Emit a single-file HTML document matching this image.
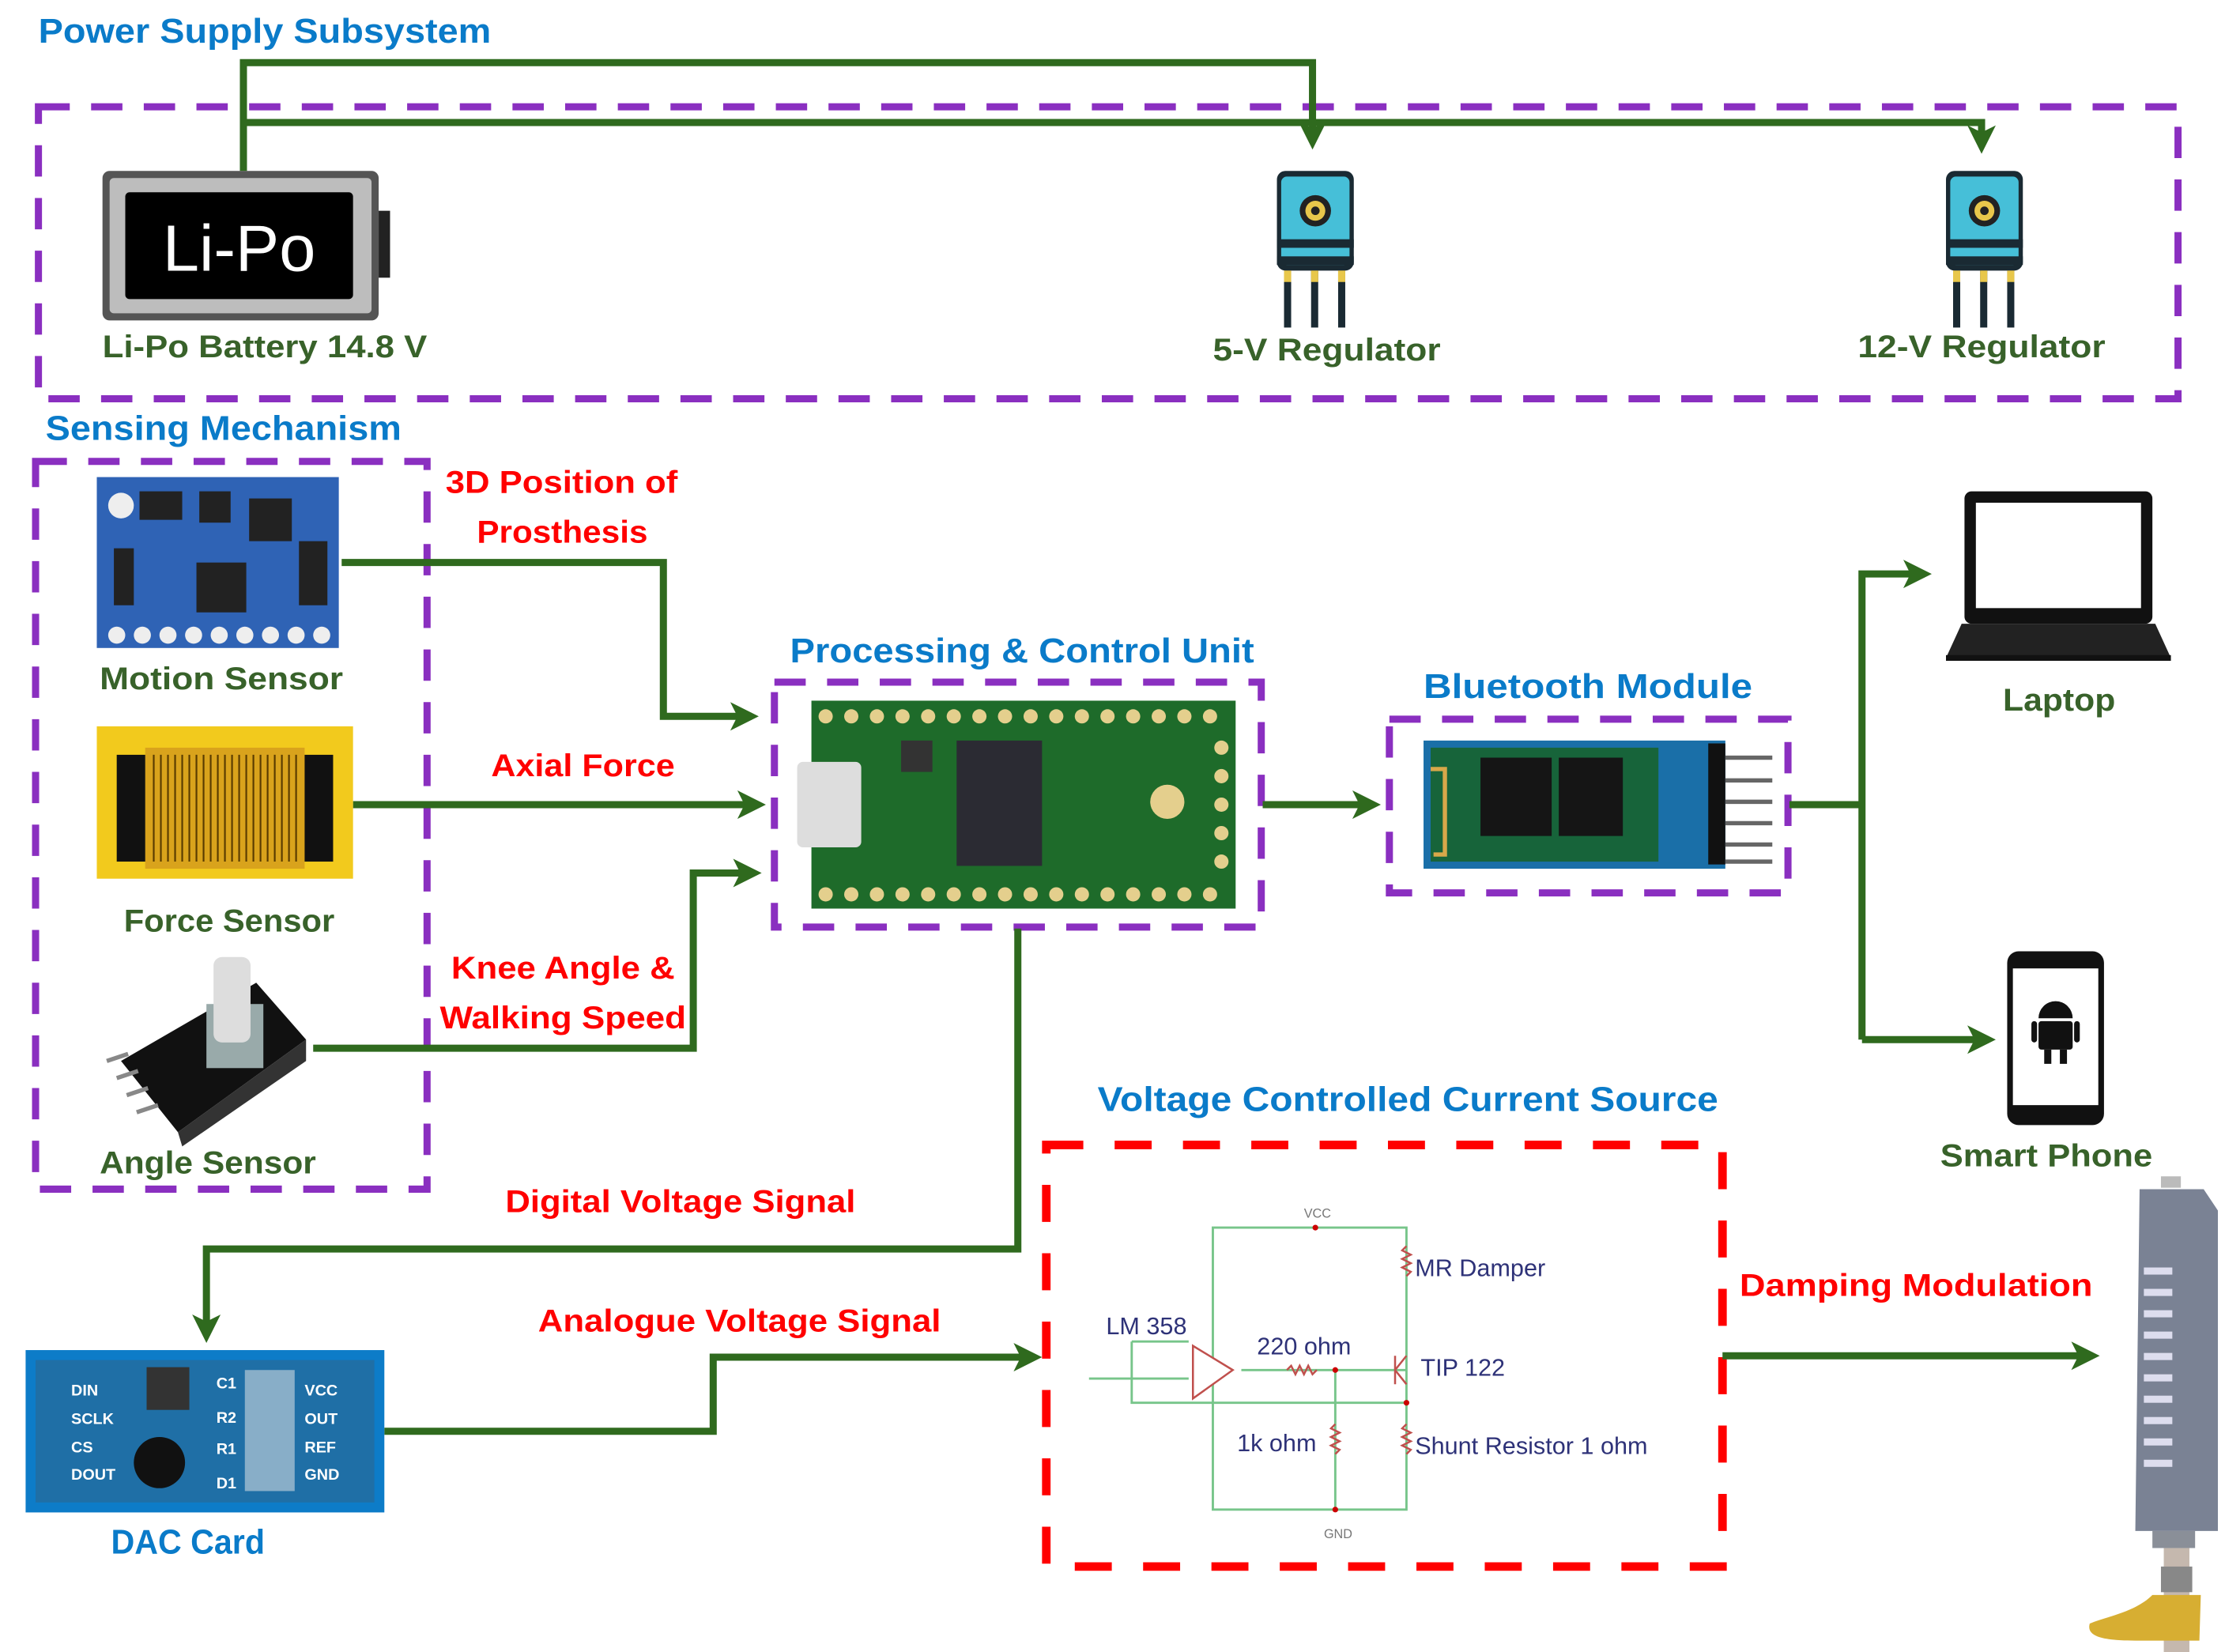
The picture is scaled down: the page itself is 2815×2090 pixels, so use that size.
<!DOCTYPE html>
<html><head><meta charset="utf-8"><style>
html,body{margin:0;padding:0;background:#fff;}
svg{display:block;}
text{font-family:"Liberation Sans",sans-serif;font-weight:bold;}
</style></head><body>
<svg width="2815" height="2090" viewBox="0 0 1563 1160" preserveAspectRatio="none" xmlns="http://www.w3.org/2000/svg">
<defs>
<marker id="ah" markerWidth="4" markerHeight="4" refX="3" refY="2" orient="auto" markerUnits="strokeWidth">
<path d="M0,0 L4,2 L0,4 L1,2 Z" fill="#2F6A1E"/></marker>
</defs>
<rect width="1563" height="1160" fill="#fff"/>

<!-- dashed boxes -->
<g fill="none" stroke="#8A2FC0" stroke-width="5" stroke-dasharray="22,15">
<rect x="27" y="75" width="1503" height="205"/>
<rect x="25" y="324" width="275" height="511"/>
<rect x="544" y="479" width="342" height="172"/>
<rect x="976" y="505" width="280" height="122"/>
</g>
<rect x="735" y="804" width="475" height="296" fill="none" stroke="#FF0000" stroke-width="6" stroke-dasharray="26,22"/>

<!-- titles -->
<g fill="#0A7BC9" font-size="24">
<text x="27" y="30" textLength="318" lengthAdjust="spacingAndGlyphs">Power Supply Subsystem</text>
<text x="32" y="309" textLength="250" lengthAdjust="spacingAndGlyphs">Sensing Mechanism</text>
<text x="555" y="465" textLength="326" lengthAdjust="spacingAndGlyphs">Processing &amp; Control Unit</text>
<text x="1000" y="490" textLength="231" lengthAdjust="spacingAndGlyphs">Bluetooth Module</text>
<text x="771" y="780" textLength="436" lengthAdjust="spacingAndGlyphs">Voltage Controlled Current Source</text>
<text x="78" y="1091" textLength="108" lengthAdjust="spacingAndGlyphs">DAC Card</text>
</g>
<!-- green labels -->
<g fill="#38622A" font-size="22">
<text x="72" y="251" textLength="228" lengthAdjust="spacingAndGlyphs">Li-Po Battery 14.8 V</text>
<text x="852" y="253" textLength="160" lengthAdjust="spacingAndGlyphs">5-V Regulator</text>
<text x="1305" y="251" textLength="174" lengthAdjust="spacingAndGlyphs">12-V Regulator</text>
<text x="70" y="484" textLength="171" lengthAdjust="spacingAndGlyphs">Motion Sensor</text>
<text x="87" y="654" textLength="148" lengthAdjust="spacingAndGlyphs">Force Sensor</text>
<text x="70" y="824" textLength="152" lengthAdjust="spacingAndGlyphs">Angle Sensor</text>
<text x="1407" y="499" textLength="79" lengthAdjust="spacingAndGlyphs">Laptop</text>
<text x="1363" y="819" textLength="149" lengthAdjust="spacingAndGlyphs">Smart Phone</text>
</g>
<!-- red labels -->
<g fill="#FF0000" font-size="22">
<text x="313" y="346" textLength="163" lengthAdjust="spacingAndGlyphs">3D Position of</text>
<text x="335" y="381" textLength="120" lengthAdjust="spacingAndGlyphs">Prosthesis</text>
<text x="345" y="545" textLength="129" lengthAdjust="spacingAndGlyphs">Axial Force</text>
<text x="317" y="687" textLength="157" lengthAdjust="spacingAndGlyphs">Knee Angle &amp;</text>
<text x="309" y="722" textLength="173" lengthAdjust="spacingAndGlyphs">Walking Speed</text>
<text x="355" y="851" textLength="246" lengthAdjust="spacingAndGlyphs">Digital Voltage Signal</text>
<text x="378" y="935" textLength="283" lengthAdjust="spacingAndGlyphs">Analogue Voltage Signal</text>
<text x="1222" y="910" textLength="248" lengthAdjust="spacingAndGlyphs">Damping Modulation</text>
</g>

<!-- connectors -->
<g fill="none" stroke="#2F6A1E" stroke-width="5">
<path d="M171,120 V44 H922 V100" marker-end="url(#ah)"/>
<path d="M171,86 H1392 V103" marker-end="url(#ah)"/>
<path d="M240,395 H466 V503 H528" marker-end="url(#ah)"/>
<path d="M248,565 H533" marker-end="url(#ah)"/>
<path d="M220,736 H487 V613 H530" marker-end="url(#ah)"/>
<path d="M887,565 H965" marker-end="url(#ah)"/>
<path d="M1257,565 H1308"/>
<path d="M1308,730 V403 H1352" marker-end="url(#ah)"/>
<path d="M1308,730 H1397" marker-end="url(#ah)"/>
<path d="M715,652 V877 H145 V938" marker-end="url(#ah)"/>
<path d="M270,1005 H501 V953 H727" marker-end="url(#ah)"/>
<path d="M1210,952 H1470" marker-end="url(#ah)"/>
</g>

<!-- battery -->
<rect x="72" y="120" width="194" height="105" rx="5" fill="#555"/>
<rect x="77" y="125" width="184" height="95" rx="3" fill="#bdbdbd"/>
<rect x="88" y="135" width="160" height="75" rx="3" fill="#000"/>
<rect x="266" y="148" width="8" height="47" fill="#222"/>
<text x="168" y="190" font-size="46" font-weight="normal" fill="#fff" text-anchor="middle" style="font-weight:normal">Li-Po</text>

<!-- regulators -->
<g id="reg">
<rect x="897" y="120" width="54" height="70" rx="6" fill="#1a2a33"/>
<rect x="900" y="124" width="48" height="62" rx="4" fill="#46BFD8"/>
<circle cx="924" cy="148" r="11" fill="#222"/><circle cx="924" cy="148" r="7" fill="#E8C74B"/><circle cx="924" cy="148" r="3" fill="#222"/>
<rect x="897" y="168" width="54" height="6" fill="#1a2a33"/>
<rect x="897" y="180" width="54" height="6" fill="#1a2a33"/>
<rect x="902" y="190" width="5" height="40" fill="#1a2a33"/><rect x="921" y="190" width="5" height="40" fill="#1a2a33"/><rect x="940" y="190" width="5" height="40" fill="#1a2a33"/>
<rect x="902" y="190" width="5" height="8" fill="#E8C74B"/><rect x="921" y="190" width="5" height="8" fill="#E8C74B"/><rect x="940" y="190" width="5" height="8" fill="#E8C74B"/>
</g>
<use href="#reg" x="470" y="0"/>

<!-- motion sensor -->
<rect x="68" y="335" width="170" height="120" fill="#2F63B5"/>
<g fill="#222"><rect x="98" y="345" width="30" height="20"/><rect x="140" y="345" width="22" height="22"/><rect x="175" y="350" width="30" height="30"/><rect x="138" y="395" width="35" height="35"/><rect x="210" y="380" width="20" height="45"/><rect x="80" y="385" width="14" height="40"/></g>
<g fill="#eee"><circle cx="85" cy="355" r="9"/><circle cx="82" cy="446" r="6"/><circle cx="100" cy="446" r="6"/><circle cx="118" cy="446" r="6"/><circle cx="136" cy="446" r="6"/><circle cx="154" cy="446" r="6"/><circle cx="172" cy="446" r="6"/><circle cx="190" cy="446" r="6"/><circle cx="208" cy="446" r="6"/><circle cx="226" cy="446" r="6"/></g>

<!-- force sensor -->
<rect x="68" y="510" width="180" height="107" fill="#F2CA1D"/>
<rect x="82" y="530" width="152" height="75" fill="#111"/>
<rect x="102" y="525" width="112" height="85" fill="#D9A31C"/>
<g stroke="#5a3c00" stroke-width="1.2">
<path d="M108,530V605M113,530V605M118,530V605M123,530V605M128,530V605M133,530V605M138,530V605M143,530V605M148,530V605M153,530V605M158,530V605M163,530V605M168,530V605M173,530V605M178,530V605M183,530V605M188,530V605M193,530V605M198,530V605M203,530V605M208,530V605"/>
</g>

<!-- angle sensor -->
<polygon points="85,745 180,690 215,730 125,795" fill="#111"/>
<polygon points="125,795 215,730 215,745 128,805" fill="#333"/>
<rect x="145" y="705" width="40" height="45" fill="#9aa"/>
<rect x="150" y="672" width="26" height="60" rx="6" fill="#ddd"/>
<g stroke="#888" stroke-width="3"><path d="M90,740 L75,745 M97,752 L82,757 M104,764 L89,769 M111,776 L96,781"/></g>

<!-- teensy -->
<rect x="570" y="492" width="298" height="146" fill="#1E6B2A"/>
<g fill="#E4CF8D">
<circle cx="580" cy="503" r="5"/><circle cx="598" cy="503" r="5"/><circle cx="616" cy="503" r="5"/><circle cx="634" cy="503" r="5"/><circle cx="652" cy="503" r="5"/><circle cx="670" cy="503" r="5"/><circle cx="688" cy="503" r="5"/><circle cx="706" cy="503" r="5"/><circle cx="724" cy="503" r="5"/><circle cx="742" cy="503" r="5"/><circle cx="760" cy="503" r="5"/><circle cx="778" cy="503" r="5"/><circle cx="796" cy="503" r="5"/><circle cx="814" cy="503" r="5"/><circle cx="832" cy="503" r="5"/><circle cx="850" cy="503" r="5"/>
<circle cx="580" cy="628" r="5"/><circle cx="598" cy="628" r="5"/><circle cx="616" cy="628" r="5"/><circle cx="634" cy="628" r="5"/><circle cx="652" cy="628" r="5"/><circle cx="670" cy="628" r="5"/><circle cx="688" cy="628" r="5"/><circle cx="706" cy="628" r="5"/><circle cx="724" cy="628" r="5"/><circle cx="742" cy="628" r="5"/><circle cx="760" cy="628" r="5"/><circle cx="778" cy="628" r="5"/><circle cx="796" cy="628" r="5"/><circle cx="814" cy="628" r="5"/><circle cx="832" cy="628" r="5"/><circle cx="850" cy="628" r="5"/>
<circle cx="858" cy="525" r="5"/><circle cx="858" cy="545" r="5"/><circle cx="858" cy="565" r="5"/><circle cx="858" cy="585" r="5"/><circle cx="858" cy="605" r="5"/>
<circle cx="820" cy="563" r="12"/>
</g>
<rect x="672" y="520" width="60" height="88" fill="#2b2b33"/>
<rect x="633" y="520" width="22" height="22" fill="#333"/>
<rect x="560" y="535" width="45" height="60" rx="4" fill="#ddd"/>

<!-- bluetooth -->
<rect x="1000" y="520" width="212" height="90" fill="#1A6FA8"/>
<rect x="1005" y="525" width="160" height="80" fill="#17643A"/>
<rect x="1040" y="532" width="50" height="55" fill="#151515"/>
<rect x="1095" y="532" width="45" height="55" fill="#151515"/>
<g stroke="#D8A84A" stroke-width="3" fill="none"><path d="M1005,540 h10 v60 h-8"/></g>
<rect x="1200" y="522" width="12" height="85" fill="#111"/>
<g stroke="#666" stroke-width="3"><path d="M1212,532 H1245 M1212,548 H1245 M1212,563 H1245 M1212,578 H1245 M1212,593 H1245 M1212,605 H1245"/></g>

<!-- laptop -->
<rect x="1380" y="345" width="132" height="93" rx="5" fill="#111"/>
<rect x="1388" y="353" width="116" height="74" fill="#fff"/>
<polygon points="1378,438 1514,438 1525,462 1367,462" fill="#222"/>
<rect x="1367" y="460" width="158" height="4" fill="#111"/>

<!-- phone -->
<rect x="1410" y="668" width="68" height="122" rx="8" fill="#111"/>
<rect x="1414" y="680" width="60" height="96" fill="#fff"/>
<g fill="#111"><path d="M1432,715 a12,12 0 0 1 24,0 Z"/><rect x="1432" y="717" width="24" height="20" rx="2"/><rect x="1427" y="717" width="4" height="15" rx="2"/><rect x="1457" y="717" width="4" height="15" rx="2"/><rect x="1436" y="737" width="5" height="10"/><rect x="1447" y="737" width="5" height="10"/></g>

<!-- DAC -->
<rect x="18" y="948" width="252" height="114" fill="#0D7CC8"/>
<rect x="25" y="955" width="238" height="100" fill="#1F6FA6"/>
<g fill="#fff" font-size="11" style="font-weight:bold"><text x="50" y="980">DIN</text><text x="50" y="1000">SCLK</text><text x="50" y="1020">CS</text><text x="50" y="1039">DOUT</text>
<text x="152" y="975">C1</text><text x="152" y="999">R2</text><text x="152" y="1021">R1</text><text x="152" y="1045">D1</text>
<text x="214" y="980">VCC</text><text x="214" y="1000">OUT</text><text x="214" y="1020">REF</text><text x="214" y="1039">GND</text></g>
<rect x="103" y="960" width="30" height="30" fill="#333"/>
<circle cx="112" cy="1027" r="18" fill="#111"/>
<rect x="172" y="962" width="35" height="85" fill="#cfd8e0" opacity=".6"/>

<!-- circuit -->
<g fill="none" stroke="#77C58A" stroke-width="1.6">
<path d="M852,960 V862 H988 V1060 H852 V960"/>
<path d="M795,942 H835 M795,942 V985 H988 M765,968 H835 M872,962 H988 M938,962 V1060"/>
</g>
<g fill="none" stroke="#C0504D" stroke-width="1.4">
<polygon points="838,945 838,982 866,962" fill="#fff"/>
<path d="M988,875 l-3,3 l6,3 l-6,3 l6,3 l-6,3 l6,3 l-3,3"/>
<path d="M988,1000 l-3,3 l6,3 l-6,3 l6,3 l-6,3 l6,3 l-3,3"/>
<path d="M938,1000 l-3,3 l6,3 l-6,3 l6,3 l-6,3 l6,3 l-3,3"/>
<path d="M904,962 l3,-3 l3,6 l3,-6 l3,6 l3,-6 l3,6 l3,-3"/>
<path d="M980,952 V972 M980,962 L988,952 M980,962 L988,972"/>
</g>
<g fill="#C00"><circle cx="924" cy="862" r="2"/><circle cx="938" cy="962" r="2"/><circle cx="988" cy="985" r="2"/><circle cx="938" cy="1060" r="2"/></g>
<g fill="#2E3278" font-size="17" style="font-weight:normal">
<text x="777" y="937" style="font-weight:normal">LM 358</text>
<text x="883" y="951" style="font-weight:normal">220 ohm</text>
<text x="998" y="966" style="font-weight:normal">TIP 122</text>
<text x="994" y="896" style="font-weight:normal">MR Damper</text>
<text x="869" y="1019" style="font-weight:normal">1k ohm</text>
<text x="994" y="1021" style="font-weight:normal">Shunt Resistor 1 ohm</text>
</g>
<text x="916" y="855" font-size="9" fill="#777" style="font-weight:normal">VCC</text>
<text x="930" y="1080" font-size="9" fill="#777" style="font-weight:normal">GND</text>

<!-- prosthesis -->
<rect x="1518" y="826" width="14" height="8" fill="#bbb"/>
<path d="M1503,835 H1548 L1558,850 V1075 H1500 Z" fill="#7A8294"/>
<g fill="#dde"><rect x="1506" y="890" width="20" height="5"/><rect x="1506" y="905" width="20" height="5"/><rect x="1506" y="920" width="20" height="5"/><rect x="1506" y="935" width="20" height="5"/><rect x="1506" y="950" width="20" height="5"/><rect x="1506" y="965" width="20" height="5"/><rect x="1506" y="980" width="20" height="5"/><rect x="1506" y="995" width="20" height="5"/><rect x="1506" y="1010" width="20" height="5"/><rect x="1506" y="1025" width="20" height="5"/></g>
<rect x="1512" y="1075" width="30" height="12" fill="#8a8f98"/>
<rect x="1520" y="1087" width="18" height="100" fill="#C5B8AE"/>
<rect x="1518" y="1100" width="22" height="18" fill="#888"/>
<path d="M1512,1120 H1546 L1545,1152 H1500 C1480,1152 1465,1150 1468,1140 C1480,1135 1500,1132 1512,1120 Z" fill="#D7AE32"/>
</svg>
</body></html>
